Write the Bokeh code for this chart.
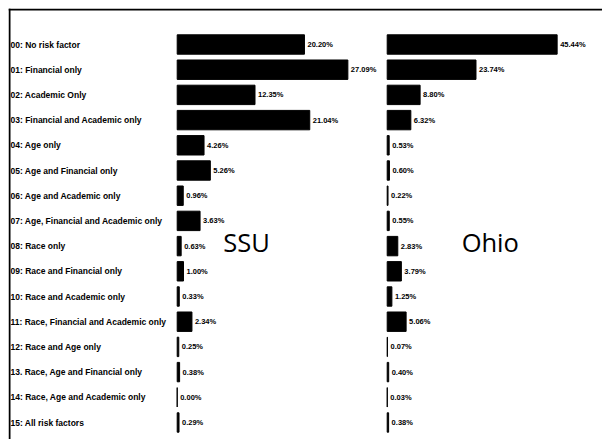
from bokeh.plotting import figure
from bokeh.models import Range1d, ColumnDataSource, Label, Span
from bokeh.embed import file_html
from bokeh.resources import INLINE
from bokeh.core.properties import value

# ---------------- data ----------------
categories = [
    "00: No risk factor",
    "01: Financial only",
    "02: Academic Only",
    "03: Financial and Academic only",
    "04: Age only",
    "05: Age and Financial only",
    "06: Age and Academic only",
    "07: Age, Financial and Academic only",
    "08: Race only",
    "09: Race and Financial only",
    "10: Race and Academic only",
    "11: Race, Financial and Academic only",
    "12: Race and Age only",
    "13. Race, Age and Financial only",
    "14: Race, Age and Academic only",
    "15: All risk factors",
]
ssu_values = [20.20, 27.09, 12.35, 21.04, 4.26, 5.26, 0.96, 3.63,
              0.63, 1.00, 0.33, 2.34, 0.25, 0.38, 0.00, 0.29]
ohio_values = [45.44, 23.74, 8.80, 6.32, 0.53, 0.60, 0.22, 0.55,
               2.83, 3.79, 1.25, 5.06, 0.07, 0.40, 0.03, 0.38]
panel_titles = ["SSU", "Ohio"]

# ---------------- layout plan (pixels) ----------------
W, H = 602, 439
pad_left, pad_top = 8, 8
frame_w = W - pad_left
frame_h = H - pad_top
ssu_zero_px = 168.7      # frame-relative x where SSU bars start
ssu_scale = 6.3          # px per percent
ohio_zero_px = 378.7
ohio_scale = 3.74
row_px = 25.2
top_px = 36.0            # frame top to centre of first row

n = len(categories)
ys = list(range(n))

src = ColumnDataSource(dict(
    y=ys,
    cat=categories,
    ssu=ssu_values,
    ohio=ohio_values,
    ssu_lbl=[f"{v:.2f}%" for v in ssu_values],
    ohio_lbl=[f"{v:.2f}%" for v in ohio_values],
))

x_start = -ssu_zero_px / ssu_scale
x_end = (frame_w - ssu_zero_px) / ssu_scale
y_top = -top_px / row_px
y_bottom = y_top + frame_h / row_px

p = figure(
    width=W, height=H,
    x_range=Range1d(x_start, x_end),
    y_range=Range1d(y_bottom, y_top),
    output_backend="svg", toolbar_location=None,
    min_border_left=pad_left, min_border_top=pad_top,
    min_border_right=0, min_border_bottom=0,
)
p.extra_x_ranges = {
    "ohio": Range1d(-ohio_zero_px / ohio_scale, (frame_w - ohio_zero_px) / ohio_scale),
    "lab": Range1d(0, 1),
}
p.xaxis.visible = False
p.yaxis.visible = False
p.outline_line_color = None
p.background_fill_color = "white"
p.border_fill_color = "white"
p.xgrid.visible = False
p.ygrid.visible = False

# frame border (top and left edges only)
p.add_layout(Span(location=y_top + 1.0 / row_px, dimension="width",
                  line_color="black", line_width=2))
p.add_layout(Span(location=x_start + 1.0 / ssu_scale, dimension="height",
                  line_color="black", line_width=2))

# bars
p.hbar(y="y", left=0, right="ssu", height=0.77, source=src,
       fill_color="black", line_color="black", line_width=1)
p.hbar(y="y", left=0, right="ohio", height=0.77, source=src,
       fill_color="black", line_color="black", line_width=1,
       x_range_name="ohio")

# value labels
p.text(x="ssu", y="y", text="ssu_lbl", source=src, x_offset=3,
       text_baseline="middle", text_align="left",
       text_font=value("Liberation Sans"), text_font_size="7.5px",
       text_font_style="bold", text_color="black")
p.text(x="ohio", y="y", text="ohio_lbl", source=src, x_offset=3,
       text_baseline="middle", text_align="left",
       text_font=value("Liberation Sans"), text_font_size="7.5px",
       text_font_style="bold", text_color="black", x_range_name="ohio")

# category labels
p.text(x=0, y="y", text="cat", source=src, x_offset=2,
       text_baseline="middle", text_align="left",
       text_font=value("Liberation Sans"), text_font_size="8.5px",
       text_font_style="bold", text_color="black", x_range_name="lab")

# panel titles
p.add_layout(Label(x=7.3, y=7.85, text=panel_titles[0], text_baseline="middle",
                   text_font="Open Sans", text_font_size="25.5px",
                   text_color="black"))
p.add_layout(Label(x=19.9, y=7.85, text=panel_titles[1], text_baseline="middle",
                   text_font="Open Sans", text_font_size="25.5px",
                   text_color="black", x_range_name="ohio"))

open("out.html", "w").write(file_html(p, INLINE))
